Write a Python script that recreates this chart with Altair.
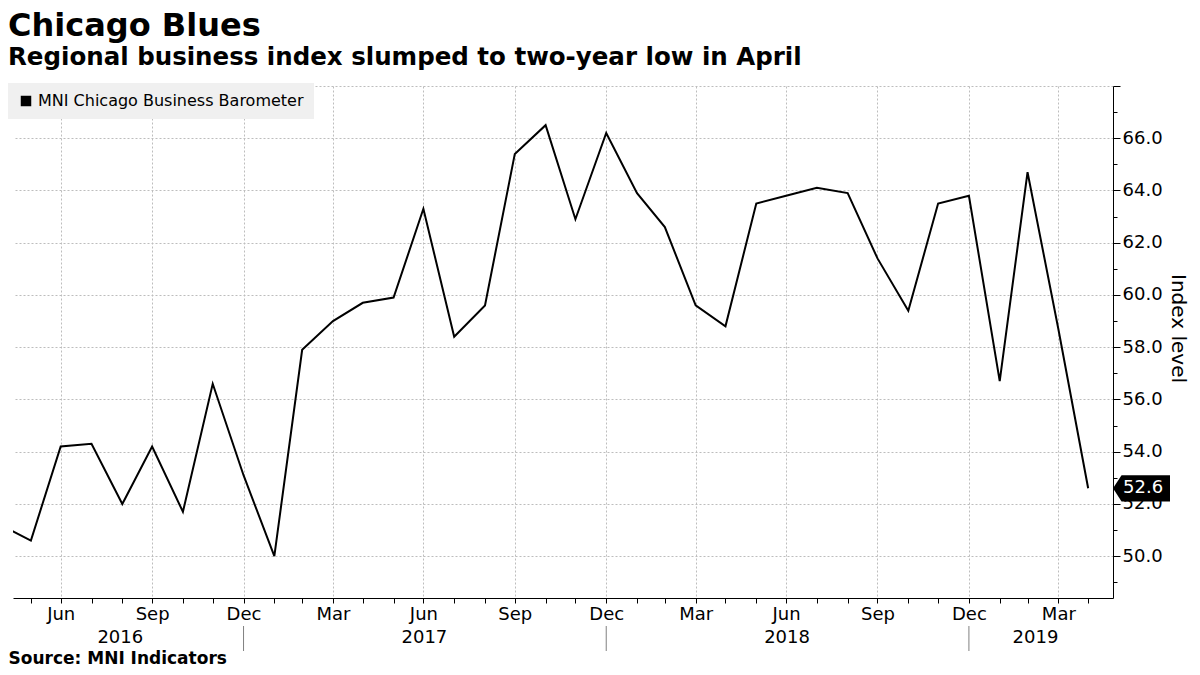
import altair as alt
import pandas as pd

# ---- data (month-end readings) ----
dates = [
    "2016-04-30", "2016-05-31", "2016-06-30", "2016-07-31", "2016-08-31", "2016-09-30",
    "2016-10-31", "2016-11-30", "2016-12-31",
    "2017-01-31", "2017-02-28", "2017-03-31", "2017-04-30", "2017-05-31", "2017-06-30",
    "2017-07-31", "2017-08-31", "2017-09-30", "2017-10-31", "2017-11-30", "2017-12-31",
    "2018-01-31", "2018-02-28", "2018-03-31", "2018-04-30", "2018-05-31", "2018-06-30",
    "2018-07-31", "2018-08-31", "2018-09-30", "2018-10-31", "2018-11-30", "2018-12-31",
    "2019-01-31", "2019-02-28", "2019-03-31", "2019-04-30",
]
values = [
    51.2, 50.6, 54.2, 54.3, 52.0, 54.2, 51.7, 56.6, 53.1,
    50.0, 57.9, 59.0, 59.7, 59.9, 63.3, 58.4, 59.6, 65.4, 66.5, 62.9, 66.2,
    63.9, 62.6, 59.6, 58.8, 63.5, 63.8, 64.1, 63.9, 61.4, 59.4, 63.5, 63.8,
    56.7, 64.7, 58.7, 52.6,
]
series_name = "MNI Chicago Business Barometer"
year_labels = ["2016", "2017", "2018", "2019"]
year_mid_dates = ["2016-08-29", "2017-07-01", "2018-07-01", "2019-03-08"]
year_break_dates = ["2016-12-31", "2017-12-31", "2018-12-31"]
y_ticks = list(range(49, 69))
x_domain = ["2016-05-13", "2019-05-25"]
y_domain = [48.4, 68.0]
title_text = "Chicago Blues"
subtitle_text = "Regional business index slumped to two-year low in April"
source_text = "Source:  MNI Indicators"
y_title = "Index level"

FONT = "DejaVu Sans"
W, H = 1100, 512


def ms(d):
    return int(pd.Timestamp(d, tz="UTC").value // 10**6)


df = pd.DataFrame({"date": dates, "value": values, "series": [series_name] * len(dates)})
last = pd.DataFrame({"date": [x_domain[1]], "value": [values[-1]],
                     "label": [f"{values[-1]:.1f}"]})
years = pd.DataFrame({"date": year_mid_dates, "year": year_labels})
breaks = pd.DataFrame({"date": year_break_dates})

xscale = alt.Scale(type="utc", domain=[ms(d) for d in x_domain], nice=False)
yscale = alt.Scale(domain=y_domain, nice=False, zero=False)

major_m = "utcmonth(datum.value) % 3 == 2"
major_y = "datum.value % 2 == 0"
xaxis = alt.Axis(
    values=[ms(d) for d in dates[1:]],
    tickCount=200,
    labelExpr=f"{major_m} ? utcFormat(datum.value, '%b') : ''",
    grid=True,
    gridOpacity={"condition": {"test": major_m, "value": 1}, "value": 0},
    gridDash=[2, 2], gridColor="#bdbdbd", gridWidth=1,
    tickSize=5, tickColor="black", domainColor="black", domainWidth=1,
    labelFont=FONT, labelFontSize=18, labelColor="black", labelPadding=2,
    labelFlush=False, labelOverlap=False,
    title=source_text, titleFont=FONT, titleFontSize=17, titleFontWeight="bold",
    titleColor="black", titleAnchor="start", titleAlign="left", titleAngle=0,
    titleX=-5, titleY=65, titleBaseline="alphabetic",
)
yaxis = alt.Axis(
    orient="right",
    values=y_ticks,
    tickCount=200,
    labelExpr=f"({major_y} && datum.value <= 66) ? format(datum.value, '.1f') : ''",
    tickSize={"condition": {"test": major_y, "value": 7}, "value": 4},
    grid=True,
    gridOpacity={"condition": {"test": major_y, "value": 1}, "value": 0},
    gridDash=[2, 2], gridColor="#bdbdbd", gridWidth=1,
    tickColor="black", domainColor="black", domainWidth=1,
    labelFont=FONT, labelFontSize=18, labelColor="black", labelPadding=2,
    labelOverlap=False,
    title=y_title, titleFont=FONT, titleFontSize=20, titleFontWeight="normal",
    titleColor="black", titleAngle=90, titlePadding=5, titleY=242,
)
legend = alt.Legend(
    title=None, orient="none", legendX=-5, legendY=-3,
    fillColor="#f0f0f0", padding=10,
    symbolType="square", symbolSize=110, symbolFillColor="black",
    symbolStrokeWidth=0, symbolOpacity=1,
    labelFont=FONT, labelFontSize=16, labelColor="black", labelOffset=4,
    labelLimit=500,
)

line = alt.Chart(df).mark_line(strokeWidth=2, clip=True).encode(
    x=alt.X("date:T", scale=xscale, axis=xaxis),
    y=alt.Y("value:Q", scale=yscale, axis=yaxis),
    color=alt.Color("series:N", scale=alt.Scale(range=["black"]), legend=legend),
)

seps = alt.Chart(breaks).mark_rule(color="#808080", strokeWidth=1).encode(
    x=alt.X("date:T", scale=xscale),
    y=alt.value(H + 28), y2=alt.value(H + 53),
)

year_text = alt.Chart(years).mark_text(
    font=FONT, fontSize=18, color="black", baseline="middle", align="center"
).encode(
    x=alt.X("date:T", scale=xscale),
    y=alt.value(H + 40),
    text="year:N",
)

BOX = "M0,0 L0.3,-0.46 L2,-0.46 L2,0.46 L0.3,0.46 Z"
box = alt.Chart(last).mark_point(
    shape=BOX, size=3249, filled=True, color="black", opacity=1, strokeWidth=0
).encode(
    x=alt.X("date:T", scale=xscale),
    y=alt.Y("value:Q", scale=yscale),
)
box_text = alt.Chart(last).mark_text(
    font=FONT, fontSize=18, color="white", align="left", baseline="middle", dx=10
).encode(
    x=alt.X("date:T", scale=xscale),
    y=alt.Y("value:Q", scale=yscale),
    text="label:N",
)

chart = alt.layer(line, seps, year_text, box, box_text).properties(
    width=W, height=H,
    title=alt.TitleParams(
        text=title_text, subtitle=subtitle_text, anchor="start", frame="group",
        font=FONT, fontSize=32, fontWeight="bold", color="black",
        subtitleFont=FONT, subtitleFontSize=24.5, subtitleFontWeight="bold",
        subtitleColor="black", subtitlePadding=3, offset=7, dx=-5,
    ),
    autosize=alt.AutoSizeParams(type="none"),
    padding={"left": 5, "top": 78, "right": 79, "bottom": 69},
    background="white",
).configure_view(stroke=None)

chart.save("out.html", embed_options={"renderer": "svg", "actions": False})
